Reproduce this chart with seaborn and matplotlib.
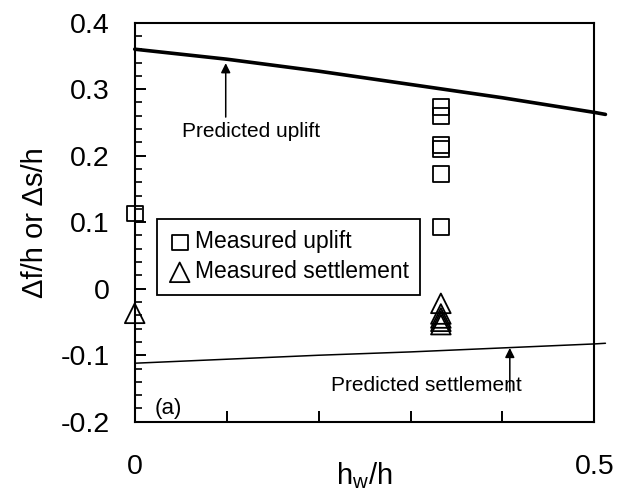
import pandas as pd
import matplotlib
matplotlib.use("Agg")
import matplotlib.pyplot as plt
import seaborn as sns

# predicted curves
uplift_x = [0.0, 0.1, 0.2, 0.3, 0.4, 0.5, 0.512]
uplift_y = [0.360, 0.345, 0.327, 0.307, 0.287, 0.265, 0.262]
settle_x = [0.0, 0.1, 0.2, 0.3, 0.4, 0.5, 0.512]
settle_y = [-0.112, -0.106, -0.100, -0.095, -0.089, -0.083, -0.082]

# measured points
meas_up_x = [0.0, 0.333, 0.333, 0.333, 0.333, 0.333, 0.333]
meas_up_y = [0.113, 0.273, 0.260, 0.216, 0.210, 0.173, 0.093]
meas_set_x = [0.0, 0.333, 0.333, 0.333, 0.333, 0.333]
meas_set_y = [-0.037, -0.022, -0.038, -0.044, -0.049, -0.054]

x_ticks = [0, 0.1, 0.2, 0.3, 0.4, 0.5]
x_tick_labels = ["0", "", "", "", "", "0.5"]
y_ticks = [-0.2, -0.1, 0, 0.1, 0.2, 0.3, 0.4]
y_tick_labels = ["-0.2", "-0.1", "0", "0.1", "0.2", "0.3", "0.4"]


def main():
    sns.set_style("ticks")
    plt.rcParams["font.family"] = ["Liberation Sans", "DejaVu Sans"]
    plt.rcParams["text.color"] = "black"
    plt.rcParams["axes.labelcolor"] = "black"
    plt.rcParams["xtick.color"] = "black"
    plt.rcParams["ytick.color"] = "black"

    fig, ax = plt.subplots(figsize=(6.28, 4.91), dpi=100)
    fig.subplots_adjust(left=0.2145, right=0.9465, top=0.954, bottom=0.141)

    up_df = pd.DataFrame({"x": uplift_x, "y": uplift_y})
    st_df = pd.DataFrame({"x": settle_x, "y": settle_y})
    sns.lineplot(data=up_df, x="x", y="y", color="black", lw=2.6, ax=ax,
                 estimator=None, clip_on=False)
    sns.lineplot(data=st_df, x="x", y="y", color="black", lw=1.1, ax=ax,
                 estimator=None, clip_on=False)

    # measured data as open markers
    sns.scatterplot(x=meas_up_x, y=meas_up_y, marker="s", s=130,
                    facecolor="none", edgecolor="black", linewidth=1.3,
                    label="Measured uplift", ax=ax, clip_on=False, zorder=3)
    sns.scatterplot(x=meas_set_x, y=meas_set_y, marker="^", s=200,
                    facecolor="none", edgecolor="black", linewidth=1.3,
                    label="Measured settlement", ax=ax, clip_on=False, zorder=3)

    ax.set_xlim(0, 0.5)
    ax.set_ylim(-0.2, 0.4)
    ax.set_xticks(x_ticks)
    ax.set_xticklabels(x_tick_labels)
    ax.set_yticks(y_ticks)
    ax.set_yticklabels(y_tick_labels)
    ax.set_yticks([v / 100 for v in range(-20, 41, 2)], minor=True)
    ax.tick_params(axis="both", which="major", direction="in", labelsize=20.5,
                   width=1.4, length=8)
    ax.tick_params(axis="x", pad=23)
    ax.tick_params(axis="y", pad=18)
    ax.tick_params(axis="y", which="minor", direction="in", width=1.2, length=5)

    for spine in ax.spines.values():
        spine.set_linewidth(1.5)
        spine.set_color("black")

    ax.set_xlabel("h$_\\mathregular{w}$/h", fontsize=21, labelpad=-14)
    ax.set_ylabel("Δf/h or Δs/h", fontsize=21, labelpad=8)

    # arrows to the predicted curves
    ax.annotate("", xy=(0.099, 0.339), xytext=(0.099, 0.258),
                arrowprops=dict(arrowstyle="-|>", color="black", lw=1.1,
                                mutation_scale=14, shrinkA=0, shrinkB=0))
    ax.text(0.127, 0.236, "Predicted uplift", fontsize=15,
            ha="center", va="center")
    ax.annotate("", xy=(0.408, -0.089), xytext=(0.408, -0.155),
                arrowprops=dict(arrowstyle="-|>", color="black", lw=1.1,
                                mutation_scale=14, shrinkA=0, shrinkB=0))
    ax.text(0.317, -0.145, "Predicted settlement", fontsize=15,
            ha="center", va="center")
    ax.text(0.022, -0.18, "(a)", fontsize=16, ha="left", va="center")

    leg = ax.legend(loc="upper left", bbox_to_anchor=(0.048, 0.508),
                    borderaxespad=0, fontsize=16.5, frameon=True, fancybox=False,
                    handlelength=1.0, handletextpad=0.15, labelspacing=0.3,
                    borderpad=0.5, markerscale=1.0)
    leg.get_frame().set_edgecolor("black")
    leg.get_frame().set_linewidth(1.3)
    leg.get_frame().set_alpha(1)

    fig.savefig("out.png", dpi=100)


if __name__ == "__main__":
    main()
